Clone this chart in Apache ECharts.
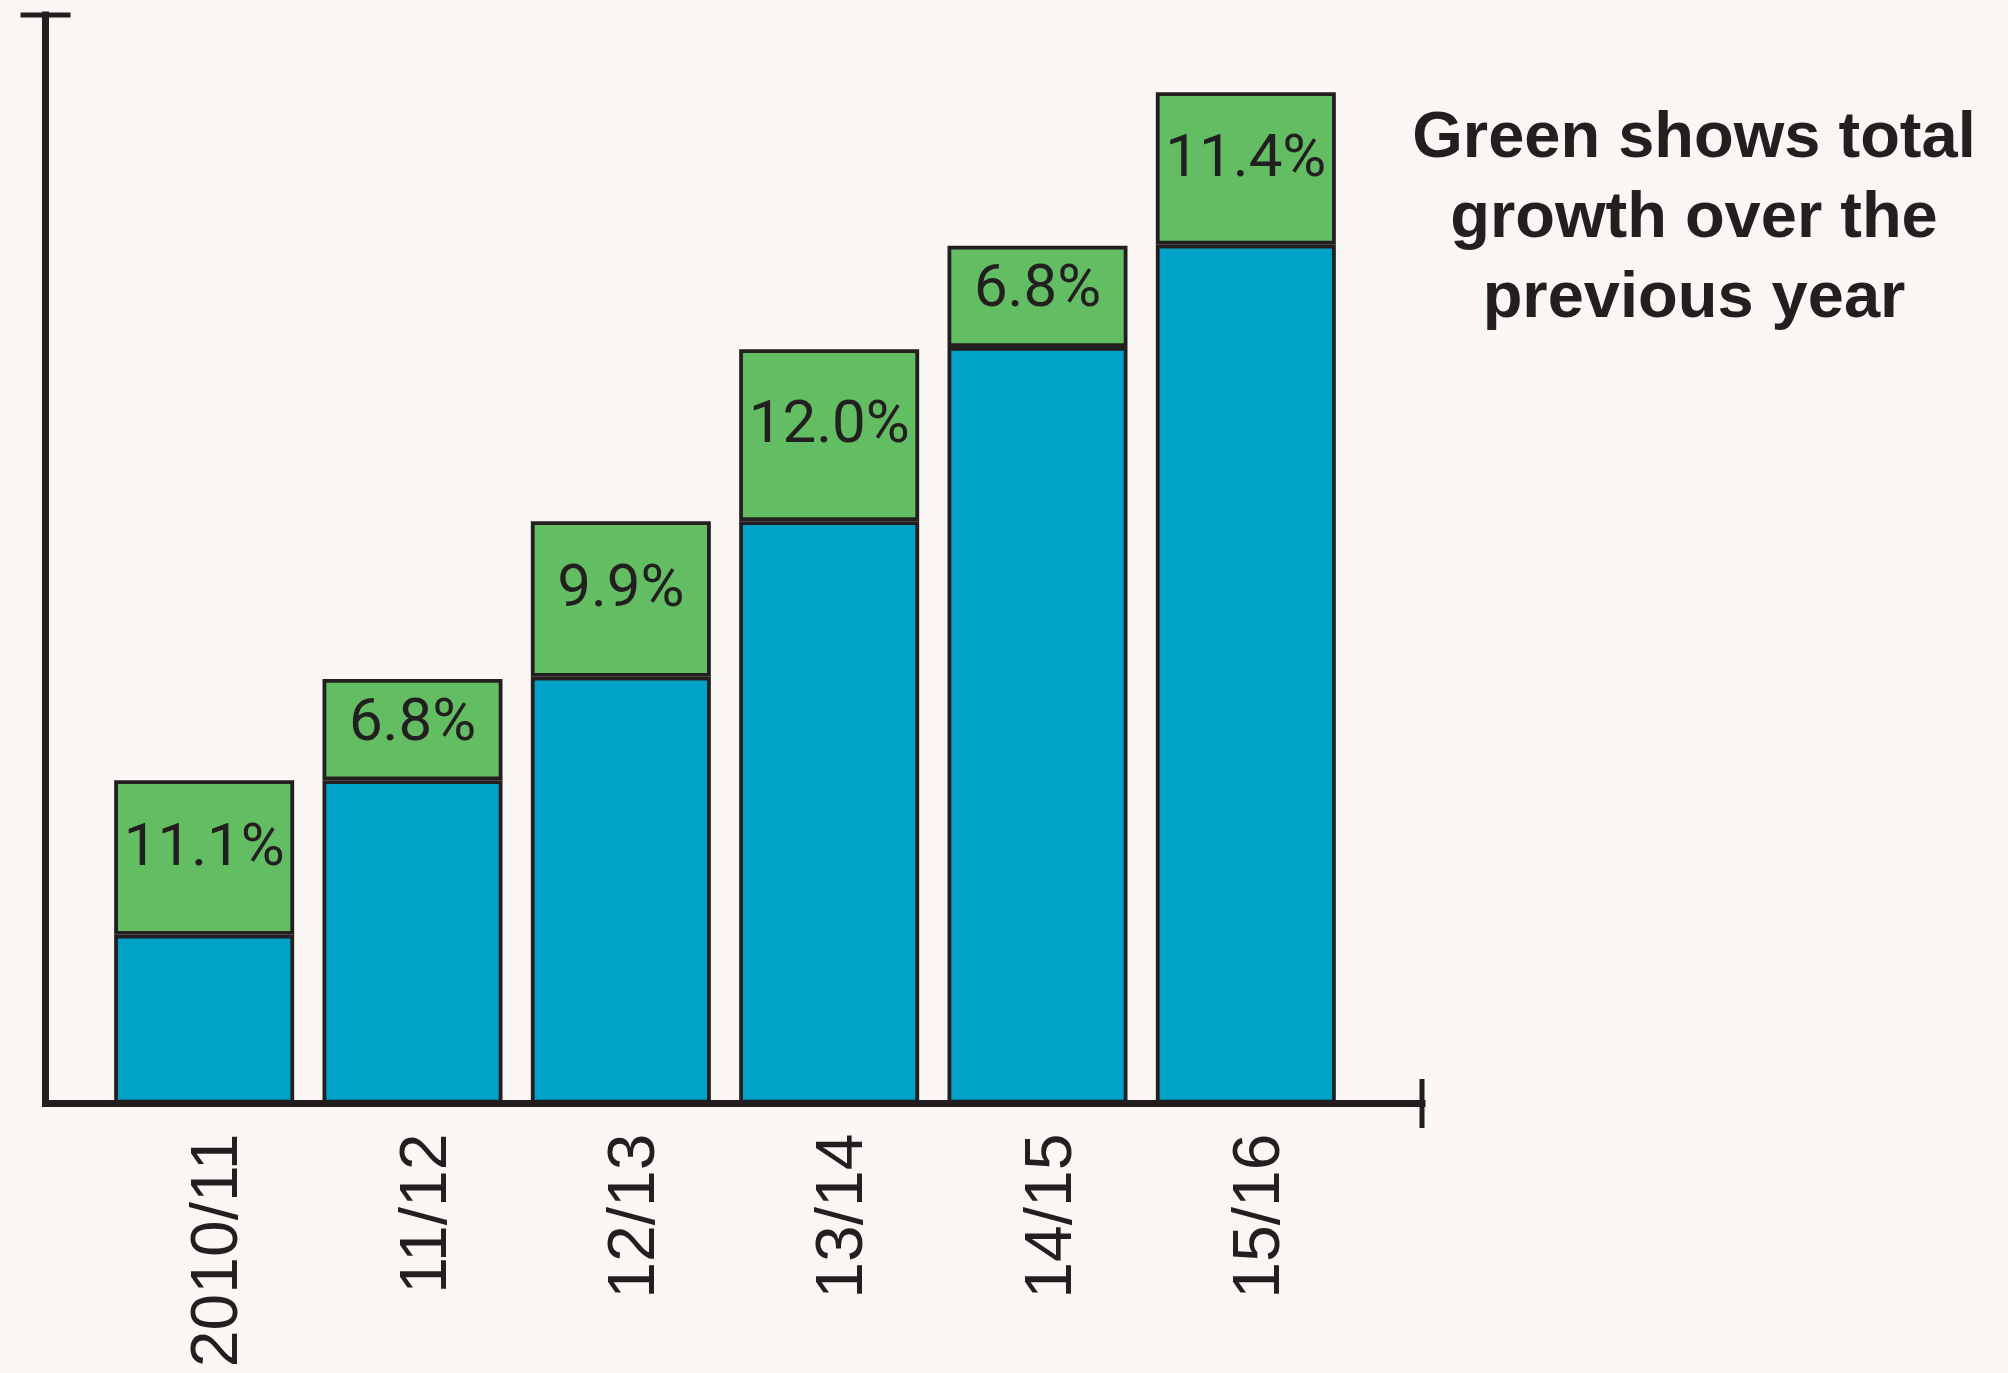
<!DOCTYPE html>
<html>
<head>
<meta charset="utf-8">
<script src="https://cdn.jsdelivr.net/npm/echarts@6/dist/echarts.min.js"></script>
<style>
html,body{margin:0;padding:0;background:#f9f6f3;}
#c{width:2008px;height:1373px;}
</style>
</head>
<body>
<div id="c"></div>
<script>
const categories = ['2010/11', '11/12', '12/13', '13/14', '14/15', '15/16'];
const baseValues = [15.5, 29.7, 39.2, 53.5, 69.5, 78.9];
const growthValues = [14.2, 9.3, 14.3, 15.8, 9.3, 14.0];
const growthLabels = ['11.1%', '6.8%', '9.9%', '12.0%', '6.8%', '11.4%'];
const titleText = 'Green shows total\ngrowth over the\nprevious year';

const ink = '#231f20';
const chart = echarts.init(document.getElementById('c'), null, {renderer: 'canvas'});

const option = {
  backgroundColor: '#f9f6f3',
  animation: false,
  grid: [
    {left: 100, right: 658, top: 15, bottom: 269.5, containLabel: false, outerBoundsMode: 'none'},
    {left: 45.5, right: 586, top: 15, bottom: 269.5, containLabel: false, outerBoundsMode: 'none'}
  ],
  xAxis: [
    {
      type: 'category', gridIndex: 0, data: categories,
      axisLine: {show: false}, axisTick: {show: false},
      axisLabel: {
        rotate: 90, margin: 30, fontSize: 66,
        fontFamily: '"Liberation Sans", Arial, sans-serif',
        color: ink, verticalAlign: 'top', lineHeight: 30
      }
    },
    {
      type: 'value', gridIndex: 1, min: 0, max: 1,
      axisLine: {show: true, onZero: false, lineStyle: {color: ink, width: 7, cap: 'square'}},
      axisTick: {show: false}, axisLabel: {show: false}, splitLine: {show: false}
    }
  ],
  yAxis: [
    {
      type: 'value', gridIndex: 0, min: 0, max: 100,
      show: false, splitLine: {show: false}
    },
    {
      type: 'value', gridIndex: 1, min: 0, max: 100,
      axisLine: {show: true, onZero: false, lineStyle: {color: ink, width: 7, cap: 'square'}},
      axisTick: {show: false}, axisLabel: {show: false}, splitLine: {show: false}
    }
  ],
  series: [
    {
      type: 'bar', xAxisIndex: 0, yAxisIndex: 0, stack: 'total',
      data: baseValues, barWidth: 180,
      itemStyle: {color: '#00a3c7', borderColor: ink, borderWidth: 3.8},
      z: 3
    },
    {
      type: 'bar', xAxisIndex: 0, yAxisIndex: 0, stack: 'total',
      data: growthValues, barWidth: 180,
      itemStyle: {color: '#63bd62', borderColor: ink, borderWidth: 3.8},
      label: {
        show: true, position: ['50%', '45%'], align: 'center', verticalAlign: 'middle',
        fontFamily: 'Roboto', fontSize: 60, color: ink,
        formatter: p => growthLabels[p.dataIndex]
      },
      z: 3
    }
  ]
};
chart.setOption(option);

const topLeft = chart.convertToPixel({gridIndex: 1}, [0, 100]);
const bottomRight = chart.convertToPixel({gridIndex: 1}, [1, 0]);
chart.setOption({
  graphic: [
    {
      type: 'line', z: 10,
      shape: {x1: topLeft[0] - 25, y1: topLeft[1], x2: topLeft[0] + 25, y2: topLeft[1]},
      style: {stroke: ink, lineWidth: 5}
    },
    {
      type: 'line', z: 10,
      shape: {x1: bottomRight[0], y1: bottomRight[1] - 24.5, x2: bottomRight[0], y2: bottomRight[1] + 24.5},
      style: {stroke: ink, lineWidth: 5}
    },
    {
      type: 'text', z: 10,
      style: {
        text: titleText, x: 1694, y: 99, textAlign: 'center', textVerticalAlign: 'top',
        fontFamily: '"Liberation Sans", Arial, sans-serif', fontWeight: 'bold',
        fontSize: 65, lineHeight: 80, fill: ink
      }
    }
  ]
});
</script>
</body>
</html>
